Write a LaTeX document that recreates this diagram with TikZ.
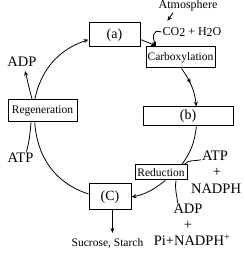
\documentclass[tikz,border=0pt]{standalone}
\usepackage{fontspec}
\setmainfont{Liberation Serif}
\usetikzlibrary{arrows.meta,decorations.markings}
\begin{document}
\begin{tikzpicture}[x=1pt,y=1pt,>={Stealth[length=5pt,width=4pt]},
  box/.style={draw,line width=1pt,fill=white,inner sep=1pt},
  tag/.style={font=\fontsize{14}{16}\selectfont},
  proc/.style={font=\fontsize{11.5}{13}\selectfont},
  chem/.style={inner sep=1pt,font=\fontsize{14.5}{16}\selectfont},
  cyc/.style={line width=0.8pt}]
\useasboundingbox (0,0) rectangle (244,253);
\node[box,tag,minimum width=51,minimum height=24] (a) at (114.5,218) {(a)};
\node[box,proc,minimum width=69,minimum height=21] (carb) at (180.5,195.5) {Carboxylation};
\node[box,tag,minimum width=90,minimum height=19] (b) at (188,136.5) {(b)\hspace{22pt}};
\node[box,proc,minimum width=52,minimum height=15] (red) at (161,80.5) {Reduction};
\node[box,tag,minimum width=42,minimum height=26] (C) at (110,56) {(C)};
\node[box,proc,minimum width=69,minimum height=22] (regen) at (42.5,142) {Regeneration};
\node[inner sep=1pt,font=\fontsize{12}{14}\selectfont] (atm) at (188,247) {Atmosphere};
\node[inner sep=1pt,font=\fontsize{12}{14}\selectfont] (co2) at (192,221) {CO\raisebox{-1.5pt}{2} + H\raisebox{-1.5pt}{2}O};
\node[chem] (atpR) at (215,97) {ATP};
\node[chem] (plusA) at (217,81) {+};
\node[chem] (nadph) at (216,64) {NADPH};
\node[chem] (adpR) at (188,44) {ADP};
\node[chem] (plusB) at (188,28) {+};
\node[chem] (pi) at (192,13) {Pi+NADPH\textsuperscript{+}};
\node[chem] (adpL) at (22,191) {ADP};
\node[chem] (atpL) at (20.5,95.5) {ATP};
\node[inner sep=1pt,font=\fontsize{11.5}{13}\selectfont] (sugar) at (107.5,10) {Sucrose, Starch};
% the cycle
\draw[cyc,->] (regen.124) to[out=78,in=199] (a.190);
\draw[cyc,->] (a.-10) to[out=-20,in=149] (carb.156);
\draw[cyc,->,postaction={decorate},decoration={markings,mark=at position 0.42 with {\arrow{>}}}] (carb.-85) to[out=-54,in=97] (b.50);
\draw[cyc] (b.-50) to[out=-97,in=54] (red.21);
\draw[cyc,->] (red.-62) to[out=-142,in=11] (C.east);
\draw[cyc] (C.172) to[out=162,in=-86] (regen.-124);
% inputs and outputs
\draw[->,line width=0.9pt] ([xshift=-15pt]atm.south) -- ([xshift=6pt,yshift=5pt]co2.north west);
\draw[cyc,->] (co2.west) to[out=160,in=110,looseness=1.6] (carb.156);
\draw[cyc,->,shorten >=3pt] (regen.132) to[out=105,in=-75] (adpL.-70);
\draw[cyc] (atpL.45) to[out=75,in=-95] (regen.-135);
\draw[cyc] (atpR.195) to[out=195,in=50] (red.19);
\draw[cyc] (red.-28) to[out=-100,in=95] (adpR.150);
\draw[cyc,->,shorten >=4pt] (C.-80) -- (C.-80 |- sugar.north);
\end{tikzpicture}
\end{document}
